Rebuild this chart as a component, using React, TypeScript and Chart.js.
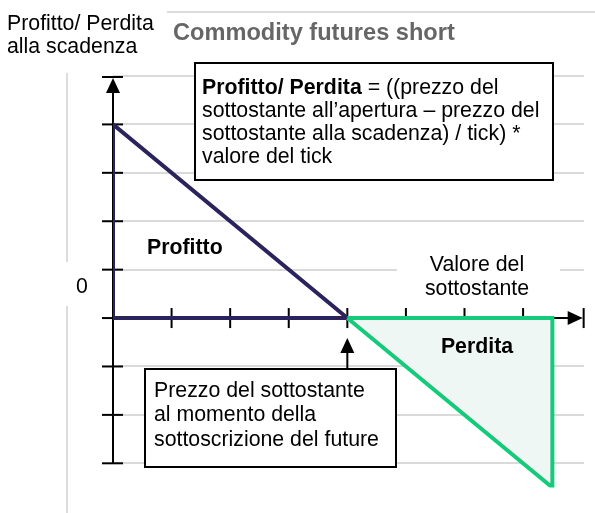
import React, { useEffect, useRef } from "react";
import { Chart, registerables } from "chart.js";

Chart.register(...registerables);

// ---- data ----
const profitX = [0, 0, 4, 0];
const profitY = [0, 4, 0, 0];
const lossX = [4, 7.5, 7.5, 4];
const lossY = [0, 0, -3.5, 0];
const yGridValues = [-3, -2, -1, 0, 1, 2, 3, 4, 5];
const yTickValues = [-3, -2, -1, 0, 1, 2, 3, 4];
const xTickValues = [1, 2, 3, 4, 5, 6, 7];
const strikeX = 4;

const titleText = "Commodity futures short";
const yLabelLines = ["Profitto/ Perdita", "alla scadenza"];
const zeroLabel = "0";
const xLabelLines = ["Valore del", "sottostante"];
const profitLabel = "Profitto";
const lossLabel = "Perdita";
const formulaBold = "Profitto/ Perdita";
const formulaLines = [
  " = ((prezzo del",
  "sottostante all\u2019apertura \u2013 prezzo del",
  "sottostante alla scadenza) / tick) *",
  "valore del tick",
];
const noteLines = [
  "Prezzo del sottostante",
  "al momento della",
  "sottoscrizione del future",
];

const FONT = "'Liberation Sans', Arial, sans-serif";
const FS = 21.3;

const diagramPlugin = {
  id: "diagram",
  beforeDatasetsDraw(chart: any) {
    const ctx = chart.ctx as CanvasRenderingContext2D;
    const xs = chart.scales.x;
    const ys = chart.scales.y;
    const x0 = xs.getPixelForValue(0);
    const y0 = ys.getPixelForValue(0);
    const right = chart.chartArea.right;
    ctx.save();
    // frame lines
    ctx.strokeStyle = "#dcdcdc";
    ctx.lineWidth = 2;
    ctx.beginPath();
    ctx.moveTo(167, 12);
    ctx.lineTo(595, 12);
    ctx.moveTo(67, 73);
    ctx.lineTo(67, 262);
    ctx.moveTo(67, 306);
    ctx.lineTo(67, 513);
    ctx.stroke();
    // grid lines
    ctx.lineWidth = 2;
    ctx.strokeStyle = "#dadada";
    for (const v of yGridValues) {
      const y = Math.round(ys.getPixelForValue(v));
      ctx.beginPath();
      ctx.moveTo(x0, y);
      ctx.lineTo(right, y);
      ctx.stroke();
    }
    // white background behind x-axis label
    const ly = ys.getPixelForValue(1);
    ctx.fillStyle = "#ffffff";
    ctx.fillRect(397, ly - 22, 163, 44);
    ctx.fillStyle = "#000";
    ctx.font = `${FS}px ${FONT}`;
    ctx.textAlign = "center";
    ctx.textBaseline = "middle";
    ctx.fillText(xLabelLines[0], 477, 265);
    ctx.fillText(xLabelLines[1], 477, 289);

    // axes
    ctx.strokeStyle = "#000";
    ctx.fillStyle = "#000";
    ctx.lineWidth = 2;
    const yTop = ys.getPixelForValue(5);
    const yBottom = ys.getPixelForValue(-3);
    ctx.beginPath();
    ctx.moveTo(x0, yBottom);
    ctx.lineTo(x0, yTop + 6);
    ctx.stroke();
    // top arrow
    ctx.beginPath();
    ctx.moveTo(x0, yTop + 2);
    ctx.lineTo(x0 - 7, yTop + 17);
    ctx.lineTo(x0 + 7, yTop + 17);
    ctx.closePath();
    ctx.fill();
    ctx.beginPath();
    ctx.moveTo(x0 - 11, yTop + 1);
    ctx.lineTo(x0 + 10, yTop + 1);
    ctx.stroke();
    // y ticks
    for (const v of yTickValues) {
      const y = ys.getPixelForValue(v);
      ctx.beginPath();
      ctx.moveTo(x0 - 11, y);
      ctx.lineTo(x0 + 10, y);
      ctx.stroke();
    }
    // x axis
    const xEnd = xs.getPixelForValue(8);
    ctx.beginPath();
    ctx.moveTo(x0, y0);
    ctx.lineTo(xEnd - 10, y0);
    ctx.stroke();
    ctx.beginPath();
    ctx.moveTo(xEnd + 1, y0);
    ctx.lineTo(xEnd - 14, y0 - 7);
    ctx.lineTo(xEnd - 14, y0 + 7);
    ctx.closePath();
    ctx.fill();
    ctx.beginPath();
    ctx.moveTo(xEnd + 2, y0 - 10);
    ctx.lineTo(xEnd + 2, y0 + 10);
    ctx.stroke();
    for (const v of xTickValues) {
      const x = xs.getPixelForValue(v);
      ctx.beginPath();
      ctx.moveTo(x, y0 - 10);
      ctx.lineTo(x, y0 + 10);
      ctx.stroke();
    }
    ctx.restore();
  },
  afterDatasetsDraw(chart: any) {
    const ctx = chart.ctx as CanvasRenderingContext2D;
    const xs = chart.scales.x;
    const ys = chart.scales.y;
    const y0 = ys.getPixelForValue(0);
    ctx.save();
    ctx.fillStyle = "#000";
    ctx.textBaseline = "middle";
    ctx.textAlign = "left";

    // title
    ctx.font = `bold 23.6px ${FONT}`;
    ctx.fillStyle = "#666666";
    ctx.fillText(titleText, 173, 33);

    // y label
    ctx.fillStyle = "#000";
    ctx.font = `${FS}px ${FONT}`;
    ctx.fillText(yLabelLines[0], 7, 24);
    ctx.fillText(yLabelLines[1], 7, 47);

    // zero
    ctx.fillStyle = "#ffffff";
    ctx.fillRect(60, 264, 40, 42);
    ctx.fillStyle = "#000";
    ctx.font = `${FS}px ${FONT}`;
    ctx.textAlign = "center";
    ctx.fillText(zeroLabel, 82, 287);

    // region labels
    ctx.font = `bold ${FS}px ${FONT}`;
    ctx.textAlign = "left";
    ctx.fillText(profitLabel, 147, 248);
    ctx.textAlign = "center";
    ctx.fillText(lossLabel, 477, 347);

    // formula box
    ctx.lineWidth = 2;
    ctx.strokeStyle = "#000";
    ctx.fillStyle = "#fff";
    ctx.fillRect(195, 63, 358, 117);
    ctx.strokeRect(195, 63, 358, 117);
    ctx.fillStyle = "#000";
    ctx.textAlign = "left";
    ctx.font = `bold ${FS}px ${FONT}`;
    ctx.fillText(formulaBold, 202, 88);
    const bw = ctx.measureText(formulaBold).width;
    ctx.font = `${FS}px ${FONT}`;
    ctx.fillText(formulaLines[0], 202 + bw, 88);
    ctx.fillText(formulaLines[1], 202, 111.5);
    ctx.fillText(formulaLines[2], 202, 134.5);
    ctx.fillText(formulaLines[3], 202, 157.5);

    // pointer arrow to strike
    const sx = xs.getPixelForValue(strikeX);
    ctx.beginPath();
    ctx.moveTo(sx, 369);
    ctx.lineTo(sx, 350);
    ctx.stroke();
    ctx.beginPath();
    ctx.moveTo(sx, y0 + 20);
    ctx.lineTo(sx - 7, y0 + 35);
    ctx.lineTo(sx + 7, y0 + 35);
    ctx.closePath();
    ctx.fill();

    // note box
    ctx.fillStyle = "#fff";
    ctx.fillRect(145, 369, 251, 98);
    ctx.strokeRect(145, 369, 251, 98);
    ctx.fillStyle = "#000";
    ctx.font = `${FS}px ${FONT}`;
    ctx.fillText(noteLines[0], 154, 391);
    ctx.fillText(noteLines[1], 154, 415.5);
    ctx.fillText(noteLines[2], 154, 440);
    ctx.restore();
  },
};

export default function App() {
  const ref = useRef<HTMLCanvasElement | null>(null);
  useEffect(() => {
    document.body.style.margin = "0";
    const canvas = ref.current;
    if (!canvas) return;
    const chart = new Chart(canvas, {
      type: "scatter",
      data: {
        datasets: [
          {
            label: "Perdita",
            data: lossX.map((x, i) => ({ x, y: lossY[i] })),
            showLine: true,
            borderColor: "#17c97b",
            backgroundColor: "#eef7f3",
            borderWidth: 4,
            fill: "shape",
            pointRadius: 0,
            tension: 0,
            borderJoinStyle: "miter",
          },
          {
            label: "Profitto",
            data: profitX.map((x, i) => ({ x, y: profitY[i] })),
            showLine: true,
            borderColor: "#2a235c",
            backgroundColor: "transparent",
            borderWidth: 4,
            fill: false,
            pointRadius: 0,
            tension: 0,
            borderJoinStyle: "miter",
          },
        ],
      },
      options: {
        responsive: false,
        animation: false,
        layout: { padding: { left: 113, right: 11, top: 76, bottom: 25.5 } },
        plugins: { legend: { display: false }, tooltip: { enabled: false }, title: { display: false } },
        scales: {
          x: { type: "linear", min: 0, max: 8.04, display: false },
          y: { type: "linear", min: -3.5, max: 5, display: false },
        },
      } as any,
      plugins: [diagramPlugin],
    });
    return () => chart.destroy();
  }, []);
  return (
    <div style={{ width: 595, height: 513, background: "#fff" }}>
      <canvas ref={ref} width={595} height={513} />
    </div>
  );
}
